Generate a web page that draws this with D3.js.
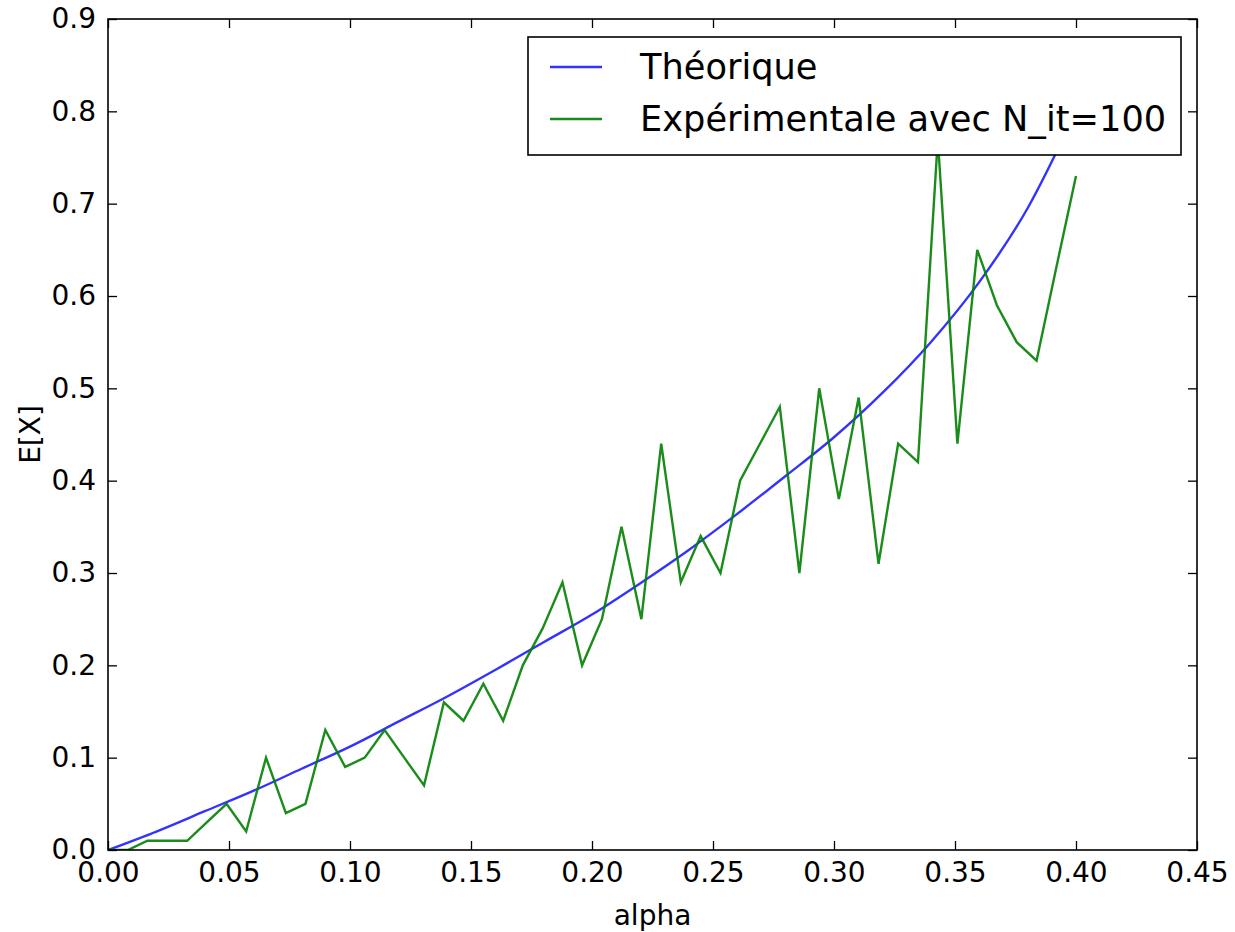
<!DOCTYPE html>
<html>
<head>
<meta charset="utf-8">
<script src="https://cdn.jsdelivr.net/npm/d3@7"></script>
<style>
  body { margin: 0; background: #fff; }
  svg { display: block; font-family: "DejaVu Sans", sans-serif; }
</style>
</head>
<body>
<script>
// alpha values of the experimental run (50 points from 0 to 0.4)
const alphaExp = [0, 0.0082, 0.0163, 0.0245, 0.0327, 0.0408, 0.049, 0.0571, 0.0653, 0.0735,
  0.0816, 0.0898, 0.098, 0.1061, 0.1143, 0.1224, 0.1306, 0.1388, 0.1469, 0.1551,
  0.1633, 0.1714, 0.1796, 0.1878, 0.1959, 0.2041, 0.2122, 0.2204, 0.2286, 0.2367,
  0.2449, 0.2531, 0.2612, 0.2694, 0.2776, 0.2857, 0.2939, 0.302, 0.3102, 0.3184,
  0.3265, 0.3347, 0.3429, 0.351, 0.3592, 0.3673, 0.3755, 0.3837, 0.3918, 0.4];
const expValues = [0.00, 0.00, 0.01, 0.01, 0.01, 0.03, 0.05, 0.02, 0.10, 0.04,
  0.05, 0.13, 0.09, 0.10, 0.13, 0.10, 0.07, 0.16, 0.14, 0.18,
  0.14, 0.20, 0.24, 0.29, 0.20, 0.25, 0.35, 0.25, 0.44, 0.29,
  0.34, 0.30, 0.40, 0.44, 0.48, 0.30, 0.50, 0.38, 0.49, 0.31,
  0.44, 0.42, 0.77, 0.44, 0.65, 0.59, 0.55, 0.53, 0.63, 0.73];

// theoretical curve
const alphaTheo = [0, 0.02, 0.04, 0.06, 0.08, 0.10, 0.12, 0.14, 0.16, 0.18, 0.20,
  0.22, 0.24, 0.26, 0.28, 0.30, 0.32, 0.34, 0.36, 0.38, 0.40];
const theoValues = [0, 0.020, 0.042, 0.064, 0.088, 0.112, 0.139, 0.166, 0.195, 0.225, 0.255,
  0.289, 0.325, 0.364, 0.405, 0.447, 0.495, 0.550, 0.615, 0.695, 0.800];

const xTicks = [0, 0.05, 0.10, 0.15, 0.20, 0.25, 0.30, 0.35, 0.40, 0.45];
const yTicks = [0, 0.1, 0.2, 0.3, 0.4, 0.5, 0.6, 0.7, 0.8, 0.9];
const seriesNames = ["Théorique", "Expérimentale avec N_it=100"];
const seriesColors = ["#0000ff", "#008000"];

const W = 1235, H = 932;
const margin = { top: 19, right: 38, bottom: 82, left: 108 };
const width = W - margin.left - margin.right;
const height = H - margin.top - margin.bottom;

const svg = d3.select("body").append("svg")
    .attr("width", W)
    .attr("height", H);

const g = svg.append("g")
    .attr("transform", `translate(${margin.left}, ${margin.top})`);

const x = d3.scaleLinear().domain([0, 0.45]).range([0, width]);
const y = d3.scaleLinear().domain([0, 0.9]).range([height, 0]);

g.append("clipPath").attr("id", "clip")
  .append("rect").attr("width", width).attr("height", height);

const theo = alphaTheo.map((a, i) => [a, theoValues[i]]);
const expe = alphaExp.map((a, i) => [a, expValues[i]]);

const line = d3.line().x(d => x(d[0])).y(d => y(d[1]));

const plot = g.append("g").attr("clip-path", "url(#clip)");
plot.append("path")
    .attr("d", line.curve(d3.curveMonotoneX)(theo))
    .attr("fill", "none")
    .attr("stroke", seriesColors[0])
    .attr("stroke-opacity", 0.8)
    .attr("stroke-width", 2.4);
plot.append("path")
    .attr("d", line.curve(d3.curveLinear)(expe))
    .attr("fill", "none")
    .attr("stroke", seriesColors[1])
    .attr("stroke-opacity", 0.9)
    .attr("stroke-width", 2.4);

// axes, ticks pointing inwards on all four sides
const tk = 9;
g.append("g")
    .attr("transform", `translate(0, ${height})`)
    .call(d3.axisBottom(x).tickValues(xTicks).tickFormat(d3.format(".2f"))
        .tickSizeInner(-tk).tickSizeOuter(0).tickPadding(12));
g.append("g")
    .call(d3.axisLeft(y).tickValues(yTicks).tickFormat(d3.format(".1f"))
        .tickSizeInner(-tk).tickSizeOuter(0).tickPadding(12));
g.append("g")
    .call(d3.axisTop(x).tickValues(xTicks).tickFormat("").tickSizeInner(-tk).tickSizeOuter(0));
g.append("g")
    .attr("transform", `translate(${width}, 0)`)
    .call(d3.axisRight(y).tickValues(yTicks).tickFormat("").tickSizeInner(-tk).tickSizeOuter(0));

g.selectAll(".domain").remove();
g.selectAll(".tick line").attr("stroke", "#000").attr("stroke-width", 1.3);
g.selectAll(".tick text")
    .attr("fill", "#000")
    .style("font-size", "28px")
    .style("font-family", "DejaVu Sans");

// frame
g.append("rect")
    .attr("width", width)
    .attr("height", height)
    .attr("fill", "none")
    .attr("stroke", "#000")
    .attr("stroke-width", 1.6);

// axis titles
svg.append("text")
    .attr("x", margin.left + width / 2)
    .attr("y", 925)
    .attr("text-anchor", "middle")
    .style("font-size", "28px")
    .text("alpha");
svg.append("text")
    .attr("transform", `translate(40, ${margin.top + height / 2}) rotate(-90)`)
    .attr("text-anchor", "middle")
    .style("font-size", "28px")
    .text("E[X]");

// legend
const legend = svg.append("g").attr("transform", "translate(528, 37)");
legend.append("rect")
    .attr("width", 653)
    .attr("height", 118)
    .attr("fill", "#fff")
    .attr("stroke", "#000")
    .attr("stroke-width", 1.6);
seriesNames.forEach((name, i) => {
    const row = legend.append("g").attr("transform", `translate(0, ${30 + i * 52})`);
    row.append("line")
        .attr("x1", 22).attr("x2", 74)
        .attr("stroke", seriesColors[i])
        .attr("stroke-opacity", i === 0 ? 0.8 : 0.9)
        .attr("stroke-width", 2.4);
    row.append("text")
        .attr("x", 112)
        .attr("dy", "0.35em")
        .style("font-size", "35.2px")
        .text(name);
});
</script>
</body>
</html>
